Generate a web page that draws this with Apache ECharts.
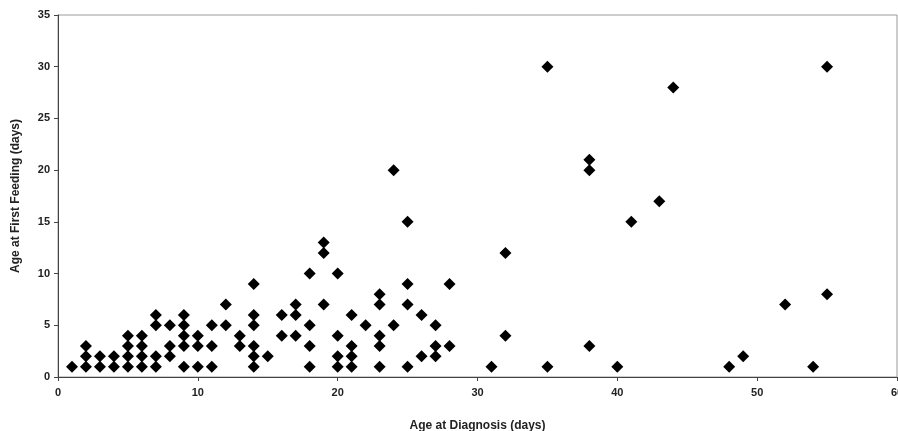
<!DOCTYPE html>
<html>
<head>
<meta charset="utf-8">
<script src="https://cdn.jsdelivr.net/npm/echarts@6/dist/echarts.min.js"></script>
<style>
  html, body { margin: 0; padding: 0; background: #fff; }
  #main { width: 898px; height: 431px; }
</style>
</head>
<body>
<div id="main"></div>
<script>
// age at diagnosis (x) and age at first feeding (y), one entry per patient
var diagnosisAge = [
  1,
  2, 2, 2,
  3, 3,
  4, 4,
  5, 5, 5, 5,
  6, 6, 6, 6,
  7, 7, 7, 7,
  8, 8, 8,
  9, 9, 9, 9, 9,
  10, 10, 10,
  11, 11, 11,
  12, 12,
  13, 13,
  14, 14, 14, 14, 14, 14,
  15,
  16, 16,
  17, 17, 17,
  18, 18, 18, 18,
  19, 19, 19,
  20, 20, 20, 20,
  21, 21, 21, 21,
  22,
  23, 23, 23, 23, 23,
  24, 24,
  25, 25, 25, 25,
  26, 26,
  27, 27, 27,
  28, 28,
  31,
  32, 32,
  35, 35,
  38, 38, 38,
  40, 41, 43, 44, 48, 49, 52, 54,
  55, 55
];
var feedingAge = [
  1,
  1, 2, 3,
  1, 2,
  1, 2,
  1, 2, 3, 4,
  1, 2, 3, 4,
  1, 2, 5, 6,
  2, 3, 5,
  1, 3, 4, 5, 6,
  1, 3, 4,
  1, 3, 5,
  5, 7,
  3, 4,
  1, 2, 3, 5, 6, 9,
  2,
  4, 6,
  4, 6, 7,
  1, 3, 5, 10,
  7, 12, 13,
  1, 2, 4, 10,
  1, 2, 3, 6,
  5,
  1, 3, 4, 7, 8,
  5, 20,
  1, 7, 9, 15,
  2, 6,
  2, 3, 5,
  3, 9,
  1,
  4, 12,
  1, 30,
  3, 20, 21,
  1, 15, 17, 28, 1, 2, 7, 1,
  8, 30
];

var points = diagnosisAge.map(function (d, i) { return [d, feedingAge[i]]; });

var myChart = echarts.init(document.getElementById('main'));

var labelFont = {
  fontFamily: 'Liberation Sans, Arial, sans-serif',
  fontSize: 11,
  fontWeight: 'bold',
  color: '#222'
};
var nameFont = {
  fontFamily: 'Liberation Sans, Arial, sans-serif',
  fontSize: 12,
  fontWeight: 'bold',
  color: '#222'
};

option = {
  animation: false,
  backgroundColor: '#fff',
  grid: {
    left: 58,
    top: 15,
    right: 1,
    bottom: 54,
    outerBoundsMode: 'none',
    containLabel: false,
    show: true,
    borderColor: '#9a9a9a',
    borderWidth: 1
  },
  xAxis: {
    type: 'value',
    min: 0,
    max: 60,
    interval: 10,
    name: 'Age at Diagnosis (days)',
    nameLocation: 'middle',
    nameGap: 43,
    nameTextStyle: nameFont,
    axisLine: { show: true, lineStyle: { color: '#444', width: 1 } },
    axisTick: { show: true, inside: false, length: 4, lineStyle: { color: '#444' } },
    axisLabel: Object.assign({ margin: 10 }, labelFont),
    splitLine: { show: false }
  },
  yAxis: {
    type: 'value',
    min: 0,
    max: 35,
    interval: 5,
    name: 'Age at First Feeding (days)',
    nameLocation: 'middle',
    nameGap: 36,
    nameRotate: 90,
    nameTextStyle: nameFont,
    axisLine: { show: true, lineStyle: { color: '#444', width: 1 } },
    axisTick: { show: true, inside: false, length: 4, lineStyle: { color: '#444' } },
    axisLabel: Object.assign({ margin: 8 }, labelFont),
    splitLine: { show: false }
  },
  series: [
    {
      type: 'scatter',
      symbol: 'diamond',
      symbolSize: 12,
      itemStyle: { color: '#000', opacity: 1 },
      data: points
    }
  ]
};

myChart.setOption(option);
</script>
</body>
</html>
